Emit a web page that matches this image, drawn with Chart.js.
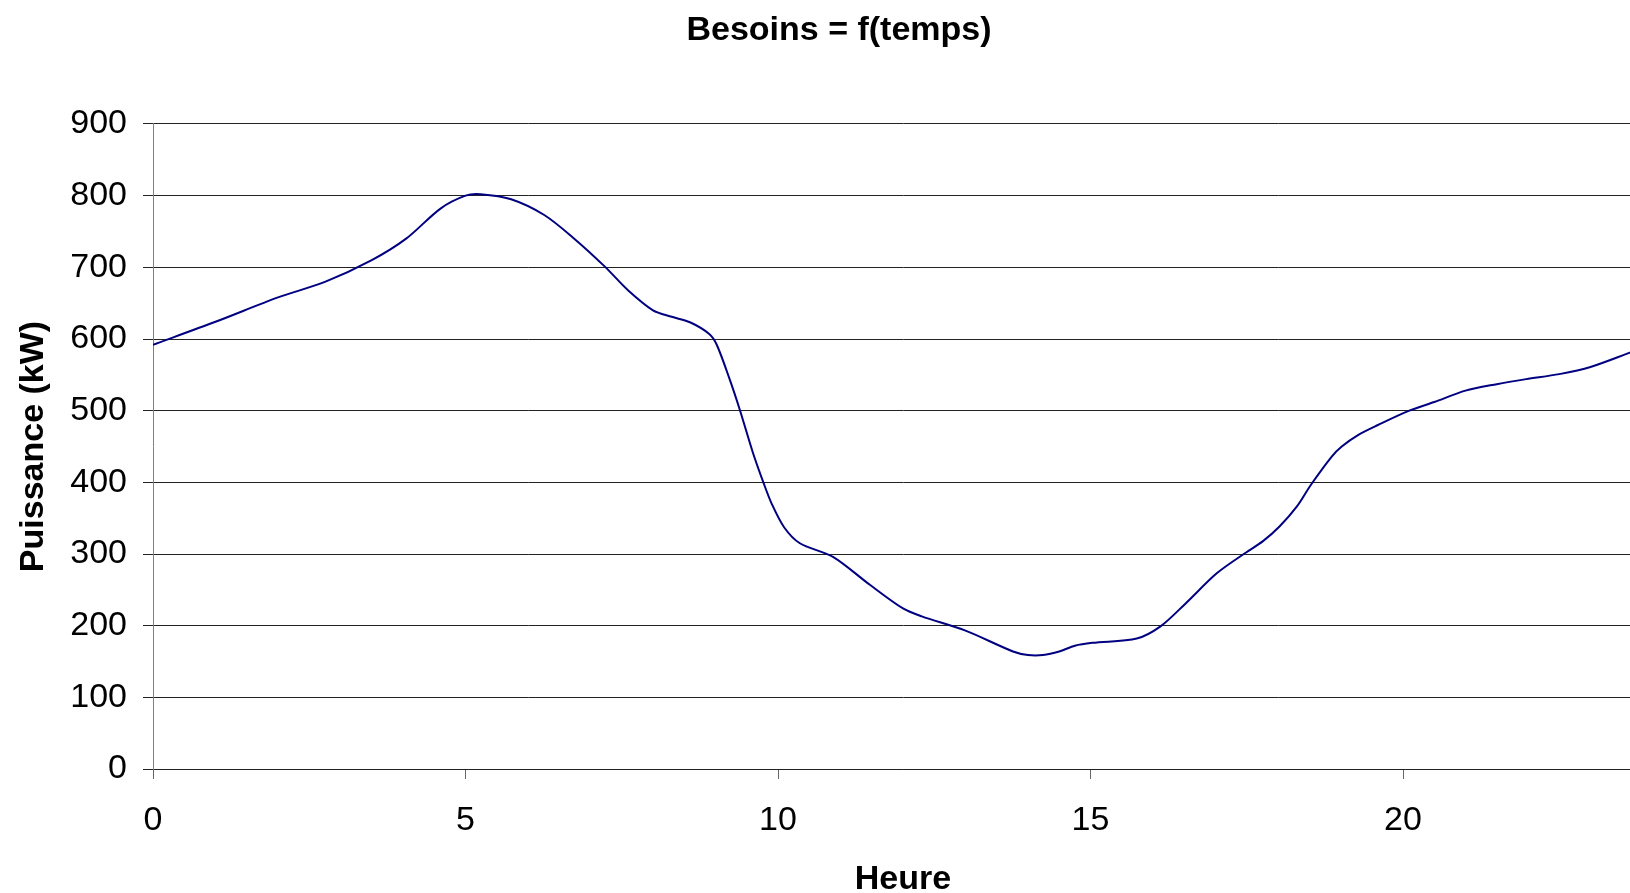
<!DOCTYPE html>
<html>
<head>
    <title>Besoins = f(temps)</title>
    <script src="https://cdn.jsdelivr.net/npm/chart.js"></script>
    <style>
        body { margin: 0; background: #fff; }
        #wrap { width: 1630px; height: 893px; overflow: hidden; }
    </style>
</head>
<body>
    <!-- the original chart is cut off on the right, so the canvas is wider than the window -->
    <div id="wrap">
        <canvas id="besoinsChart" width="1678" height="893"></canvas>
    </div>

    <script>
        // heures (h) and puissance (kW)
        const heures = [0, 1, 2, 2.76, 3.5, 4.05, 4.6, 5.0, 5.24, 5.73, 6.26, 6.74, 7.23, 7.6, 8.0, 8.3, 8.6, 8.9,
            9.02, 9.23, 9.39, 9.6, 9.77, 9.9, 10.1, 10.35, 10.88, 11.47, 12.0, 12.3, 13.0, 13.76, 14.0, 14.24,
            14.5, 14.75, 15.03, 15.74, 16.12, 16.51, 17.02, 17.47, 17.76, 18.02, 18.3, 18.53, 18.86, 19.02,
            19.28, 19.6, 20.1, 20.5, 21.0, 21.5, 21.97, 22.5, 23.0, 23.63, 24];
        const puissance = [592, 624, 658, 680, 710, 740, 782, 800, 802, 795, 773, 740, 701, 668, 640, 631, 623, 607,
            592, 543, 501, 441, 399, 370, 337, 315, 296, 257, 224, 213, 193, 164, 159, 159,
            164, 172, 176, 182, 199, 230, 273, 301, 318, 338, 366, 397, 436, 450,
            466, 480, 500, 512, 528, 537, 544, 551, 561, 581, 593];
        const xTicks = [0, 5, 10, 15, 20];
        const yTicks = [0, 100, 200, 300, 400, 500, 600, 700, 800, 900];

        const police = "'Liberation Sans', Arial, sans-serif";

        const points = heures.map((h, i) => ({ x: h, y: puissance[i] }));

        const ctx = document.getElementById("besoinsChart").getContext("2d");
        const chart = new Chart(ctx, {
            type: "line",
            data: {
                datasets: [{
                    label: "Besoins",
                    data: points,
                    borderColor: "#000080",
                    borderWidth: 2,
                    pointRadius: 0,
                    tension: 0.3,
                    fill: false
                }]
            },
            options: {
                responsive: false,
                animation: false,
                // equal side padding keeps the title centred on the full (uncropped) canvas
                layout: { padding: { left: 25, right: 25, top: 0, bottom: 0 } },
                plugins: {
                    legend: { display: false },
                    tooltip: { enabled: false },
                    title: {
                        display: true,
                        text: "Besoins = f(temps)",
                        color: "#000",
                        font: { family: police, size: 34, weight: "bold", lineHeight: 1.2 },
                        padding: { top: 10.6, bottom: 72.6 }
                    }
                },
                scales: {
                    x: {
                        type: "linear",
                        min: 0,
                        max: 24,
                        afterBuildTicks: (scale) => { scale.ticks = xTicks.map(v => ({ value: v })); },
                        afterFit: (scale) => { scale.height = 124; },
                        grid: { drawOnChartArea: false, drawTicks: true, tickLength: 10, color: "#666" },
                        border: { color: "#222", width: 1 },
                        ticks: {
                            color: "#000",
                            padding: 21,
                            maxRotation: 0,
                            font: { family: police, size: 34 }
                        },
                        title: {
                            display: true,
                            text: "Heure",
                            color: "#000",
                            font: { family: police, size: 34, weight: "bold", lineHeight: 1 },
                            padding: { top: 0, bottom: -4 }
                        }
                    },
                    y: {
                        min: 0,
                        max: 900,
                        afterBuildTicks: (scale) => { scale.ticks = yTicks.map(v => ({ value: v })); },
                        afterFit: (scale) => { scale.width = 128; },
                        grid: { color: "#222", lineWidth: 1, drawTicks: true, tickLength: 10 },
                        border: { color: "#808080", width: 1 },
                        ticks: {
                            color: "#000",
                            padding: 16,
                            font: { family: police, size: 34 }
                        },
                        title: {
                            display: true,
                            text: "Puissance (kW)",
                            color: "#000",
                            font: { family: police, size: 34, weight: "bold", lineHeight: 1.2 },
                            padding: { top: -11.4, bottom: 20 }
                        }
                    }
                }
            }
        });
    </script>
</body>
</html>
